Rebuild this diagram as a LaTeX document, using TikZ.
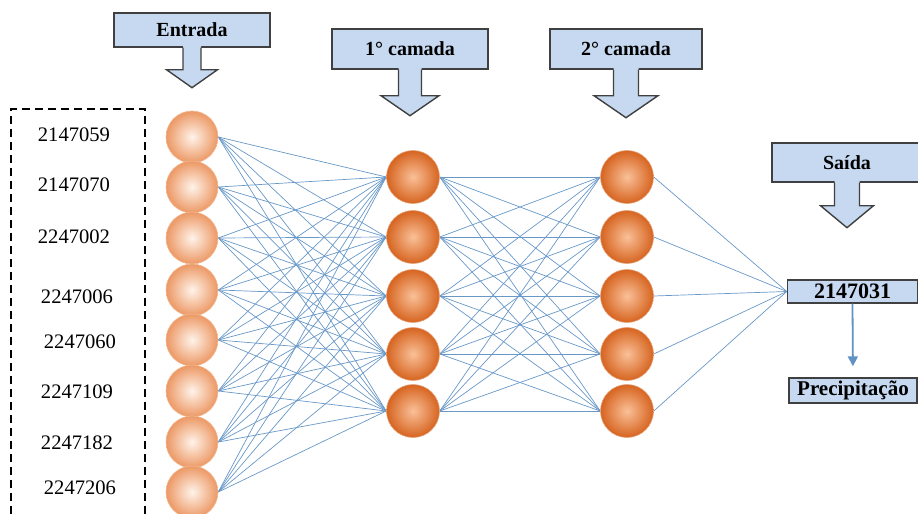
\documentclass[tikz,border=0pt]{standalone}
\usepackage{fontspec}
\setmainfont{Liberation Serif}
\usepackage{xcolor}
\usetikzlibrary{calc}
\usetikzlibrary{backgrounds}
\usetikzlibrary{positioning}
\usetikzlibrary{arrows.meta}

\definecolor{boxblue}{RGB}{198,217,240}
\definecolor{wireblue}{RGB}{104,152,200}
\definecolor{arrowblue}{RGB}{96,146,196}
\definecolor{inouter}{RGB}{236,152,100}
\definecolor{ininner}{RGB}{255,243,234}
\definecolor{hidouter}{RGB}{214,100,32}
\definecolor{hidinner}{RGB}{250,192,152}

\begin{document}
\begin{tikzpicture}[x=0.5pt, y=-0.5pt, draw=black!75, font=\fontsize{10.3}{12}\selectfont]
			\tikzstyle{inneuron}=[circle, minimum size=26pt, inner sep=0pt, inner color=ininner, outer color=inouter, draw=inouter!70!white, line width=0.3pt]
			\tikzstyle{hidneuron}=[circle, minimum size=26.5pt, inner sep=0pt, inner color=hidinner, outer color=hidouter, draw=hidouter!60!white, line width=0.3pt]
			\tikzstyle{callbox}=[draw=black!75, rectangle, fill=boxblue, line width=0.7pt, inner sep=0pt, font=\fontsize{10}{12}\selectfont\bfseries]
			\tikzstyle{calline}=[draw=black!75, line width=0.7pt, line join=miter]
			\tikzstyle{wire}=[draw=wireblue, line width=0.35pt]
			\tikzstyle{numlabel}=[inner sep=1pt]
			
			\useasboundingbox (0,0) rectangle (918,514);
			
			% dashed frame round the station codes
			\draw[black, line width=0.6pt, dash pattern=on 4pt off 2.5pt] (11,514) -- (11,109) -- (145,109) -- (145,514);
			
			\node[numlabel] (lab1) at (74,135) {2147059};
			\node[numlabel] (lab2) at (74,185) {2147070};
			\node[numlabel] (lab3) at (74,237) {2247002};
			\node[numlabel] (lab4) at (77,297) {2247006};
			\node[numlabel] (lab5) at (80,342) {2247060};
			\node[numlabel] (lab6) at (77,392) {2247109};
			\node[numlabel] (lab7) at (77,443) {2247182};
			\node[numlabel] (lab8) at (80,488) {2247206};
			
			% layers
			\foreach \y [count=\i] in {137,187,238,290,340,391,442,492}
				\node[inneuron] (in\i) at (192,\y) {};
			\foreach \y [count=\i] in {177,237,296,354,411}
				\node[hidneuron] (ha\i) at (413,\y) {};
			\foreach \y [count=\i] in {177,237,296,354,411}
				\node[hidneuron] (hb\i) at (627,\y) {};
			
			\node[callbox, minimum width=65pt, minimum height=11.5pt, font=\fontsize{11}{13}\selectfont\bfseries] (out) at (852.5,291.5) {2147031};
			\node[callbox, minimum width=64pt, minimum height=12.5pt, font=\fontsize{10.5}{12}\selectfont\bfseries] (prec) at (853,390.5) {Precipitação};
			
			\begin{scope}[on background layer]
				\foreach \i in {1,...,8}
					\foreach \j in {1,...,5}
						\draw[wire] (in\i.east) -- (ha\j.west);
				\foreach \i in {1,...,5}
					\foreach \j in {1,...,5}
						\draw[wire] (ha\i.east) -- (hb\j.west);
				\foreach \i in {1,...,5}
					\draw[wire] (hb\i.east) -- (out.west);
			\end{scope}
			
			\draw[arrowblue, line width=0.9pt, -{Triangle[length=5pt, width=5pt]}, shorten >=5.5pt] (out.south) -- (prec.north);
			
			% callouts above the layers
			\node[callbox, minimum width=78pt, minimum height=17pt] (entrada) at (192,30) {Entrada};
			\node[callbox, minimum width=78pt, minimum height=20pt] (camada1) at (410,49) {1° camada};
			\node[callbox, minimum width=76pt, minimum height=20pt] (camada2) at (626,49) {2° camada};
			\node[callbox, minimum width=75pt, minimum height=19.5pt] (saida) at (847,162.5) {Saída};
			
			\foreach \n/\s/\l/\h/\t in {entrada/9/22/25.5/18, camada1/11.5/26/29/20, camada2/12.5/26/32/22, saida/12.5/23/26.5/22} {
				\path (\n.south) ++(0,\l) coordinate (\n-neck);
				\fill[boxblue] ($(\n.south)+(-\s,-2)$) -- ($(\n-neck)+(-\s,0)$) -- ($(\n-neck)+(-\h,0)$) -- ($(\n-neck)+(0,\t)$) -- ($(\n-neck)+(\h,0)$) -- ($(\n-neck)+(\s,0)$) -- ($(\n.south)+(\s,-2)$) -- cycle;
				\draw[calline] ($(\n.south)+(-\s,0)$) -- ($(\n-neck)+(-\s,0)$) -- ($(\n-neck)+(-\h,0)$) -- ($(\n-neck)+(0,\t)$) -- ($(\n-neck)+(\h,0)$) -- ($(\n-neck)+(\s,0)$) -- ($(\n.south)+(\s,0)$);
			}
		\end{tikzpicture}
\end{document}
